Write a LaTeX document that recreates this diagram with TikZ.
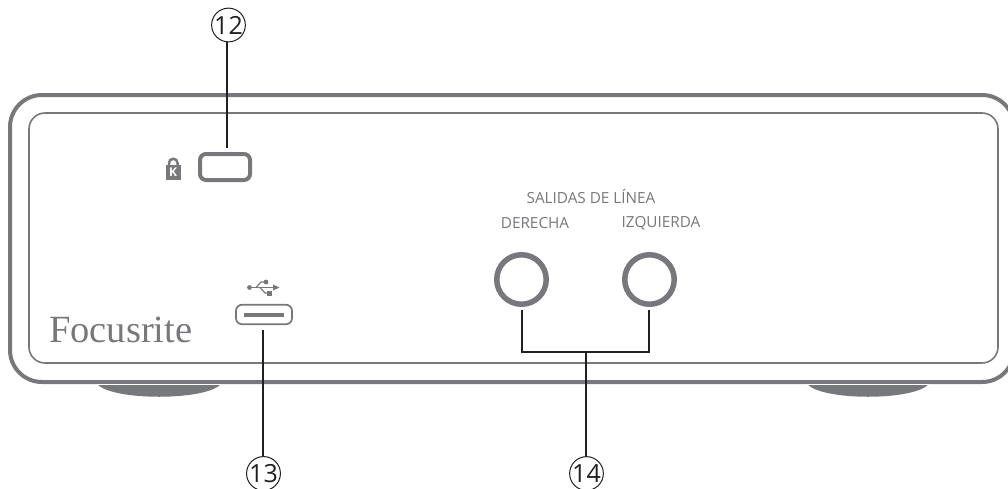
\documentclass[tikz,border=0pt]{standalone}
\usetikzlibrary{calc}
\usepackage{fontspec}
\setmainfont{Open Sans}
\newfontfamily\logofont{Liberation Serif}
\definecolor{devgray}{HTML}{77787B}
\definecolor{inkline}{HTML}{231F20}
\tikzset{
  x=1pt,y=-1pt,
  case/.style={draw=devgray,line width=#1},
  jack/.style={circle,draw=devgray,line width=5.5pt,minimum size=49.5pt,inner sep=0pt},
  callout/.style={circle,draw=inkline,line width=1pt,minimum size=33pt,inner sep=0pt,font=\fontsize{25}{25}\selectfont,text=inkline},
  leader/.style={draw=inkline,line width=1.6pt},
  lab/.style={text=devgray,font=\fontsize{15.3}{16}\selectfont,inner sep=0pt},
}
\begin{document}
\begin{tikzpicture}
\useasboundingbox (0,0) rectangle (1008,488);
\begin{scope}
\clip (0,0) rectangle (1008,488);
% feet
\fill[devgray] (97,384) .. controls (112,401) and (206,401) .. (221,384) -- cycle;
\fill[devgray] (807,384) .. controls (822,401) and (914,401) .. (929,384) -- cycle;
% case
\draw[case=4pt,rounded corners=32pt] (10,95) rectangle (1014,382);
\draw[white,line width=.7pt] (97,384.2) -- (221,384.2) (807,384.2) -- (929,384.2);
\draw[case=1.6pt,rounded corners=16pt] (29,113) rectangle (998,363);
\end{scope}
% lock
\node[draw=devgray,line width=4pt,rounded corners=6pt,minimum width=50pt,minimum height=26pt,inner sep=0pt] (lock) at (225,167) {};
\fill[devgray] (165.5,165) rectangle (181,179.5);
\draw[devgray,line width=2.5pt] (169,167) -- (169,163) arc (180:360:4.25) -- (177.5,167);
\node[text=white,font=\bfseries\fontsize{12}{12}\selectfont,inner sep=0pt] (k) at (173.2,172.5) {K};
% usb
\node[draw=devgray,line width=1.7pt,rounded corners=6pt,minimum width=56pt,minimum height=19.5pt,inner sep=0pt] (usb) at (264,314.5) {};
\fill[devgray] (244,313) rectangle (284,317);
\fill[devgray] (249.5,287.5) circle (2.4pt);
\draw[devgray,line width=1.2pt] (249.5,287.5) -- (274,287.5);
\fill[devgray] (279.5,287.5) -- (273,284.5) -- (273,290.5) -- cycle;
\draw[devgray,line width=1.2pt] (256,287.5) -- (261,282) -- (265,282);
\fill[devgray] (266,282) circle (2.4pt);
\draw[devgray,line width=1.2pt] (260,287.5) -- (265,293) -- (268,293);
\fill[devgray] (267,291) rectangle (271.5,295.5);
% logo
\node[anchor=base west,text=devgray,font=\logofont\fontsize{38.5}{38.5}\selectfont,inner sep=0pt] (logo) at (49,342.5) {Focusrite};
% labels
\node[lab] (sal) at (591,196) {SALIDAS DE LÍNEA};
\node[lab] (der) at (535,223.5) {DERECHA};
\node[lab] (izq) at (661,223.5) {IZQUIERDA};
% jacks
\node[jack] (j1) at (521.5,279.5) {};
\node[jack] (j2) at (649.5,279.5) {};
% callouts
\node[callout] (c12) at (228.5,25) {12};
\node[callout] (c13) at (263.5,473.5) {13};
\node[callout] (c14) at (586.5,473.5) {14};
% leaders
\coordinate (l12) at (227,148);
\coordinate (t12) at (227,42);
\coordinate (l13) at (263,330);
\coordinate (t13) at (263,457);
\coordinate (bar) at (586,352);
\coordinate (t14) at (586,457);
\coordinate (j1b) at (522,310);
\coordinate (j2b) at (649,310);
\draw[leader] (t12) -- (l12);
\draw[leader] (l13) -- (t13);
\draw[leader,line join=miter] (j1b) -- (522,352) -- (649,352) -- (j2b);
\draw[leader] (bar) -- (t14);
\end{tikzpicture}
\end{document}
